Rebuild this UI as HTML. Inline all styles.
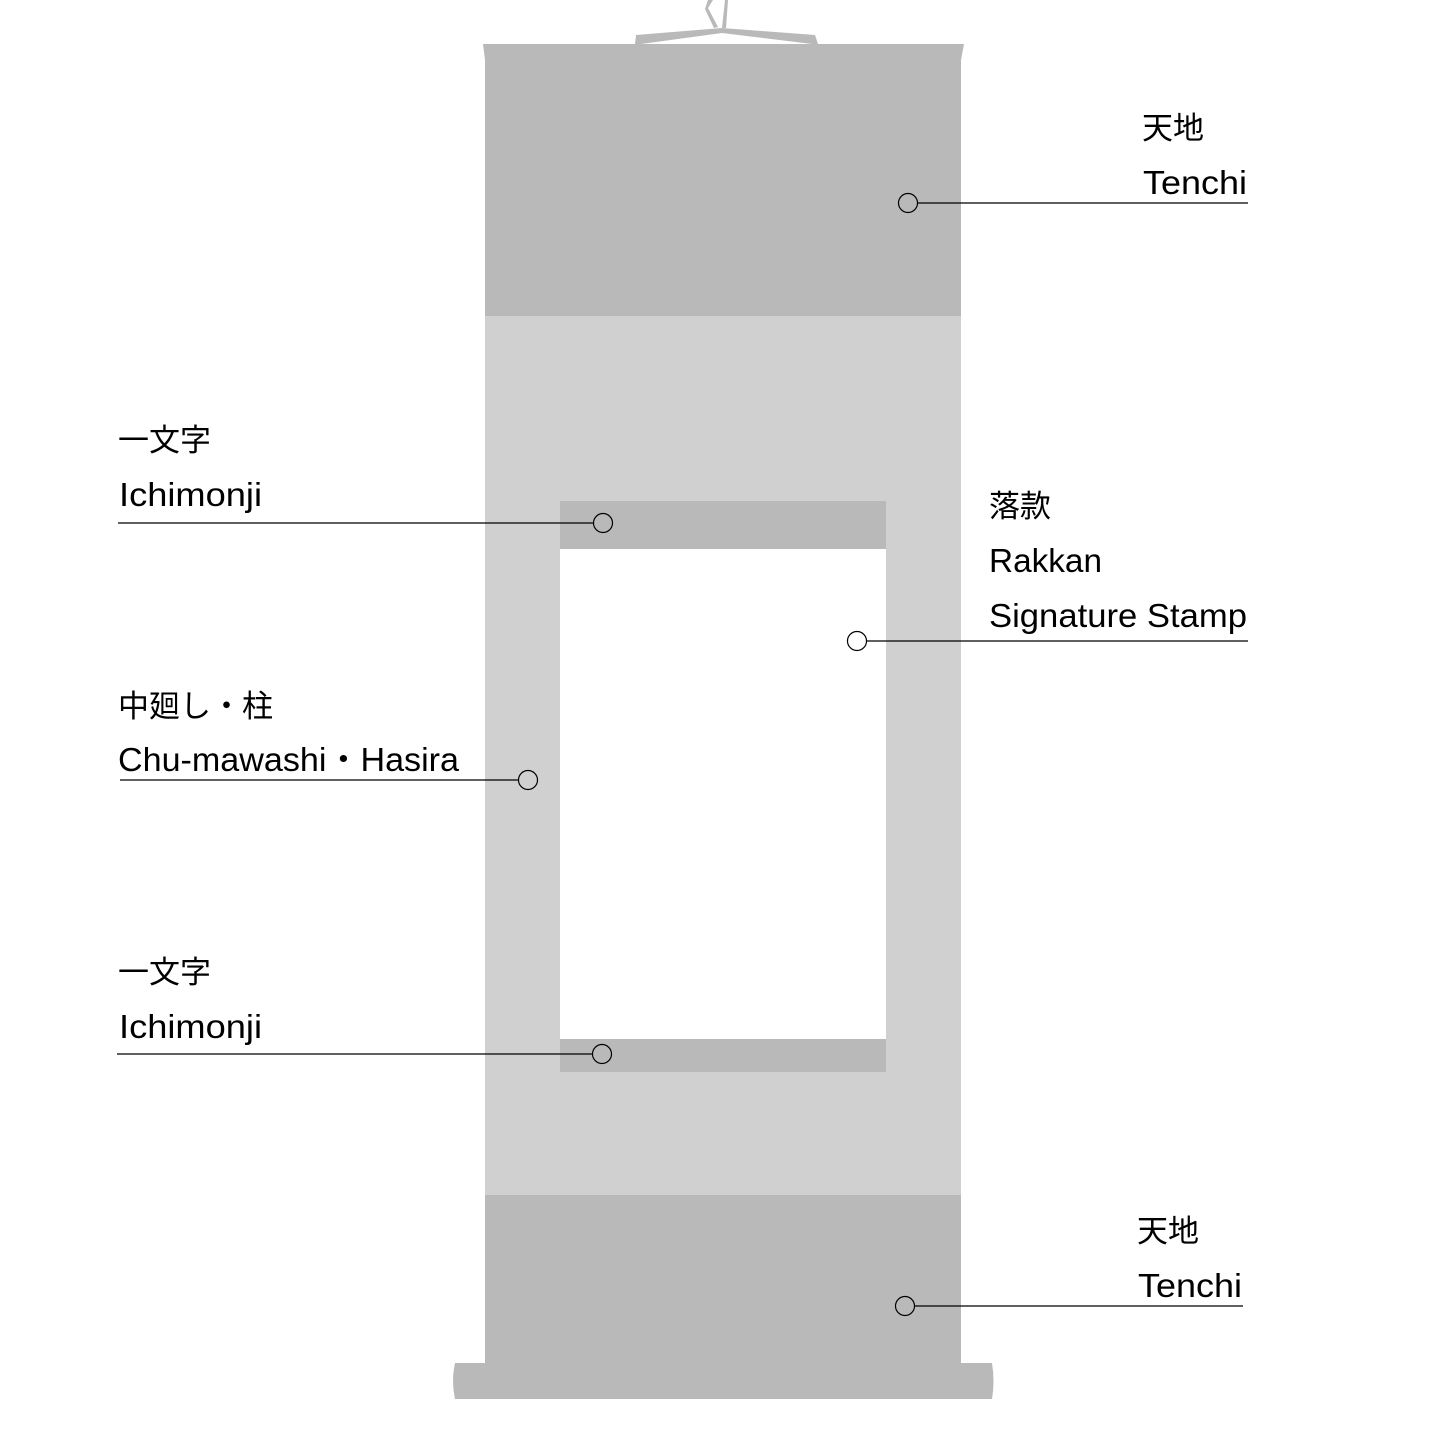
<!DOCTYPE html>
<html><head><meta charset="utf-8"><style>html,body{margin:0;padding:0;background:#fff}</style></head>
<body>
<svg width="1445" height="1445" viewBox="0 0 1445 1445" xmlns="http://www.w3.org/2000/svg">
<g fill="#b9b9b9">
<path d="M483 44 L964 44 L961 60 L961 316 L485 316 L485 60 Z"/>
<rect x="485" y="316" width="476" height="880" fill="#d0d0d0"/>
<rect x="485" y="1195" width="476" height="170"/>
<path d="M455 1363 L992 1363 Q995 1381 992 1399 L455 1399 Q451 1381 455 1363 Z"/>
<path d="M636 35 L722 28 L815 35 L818 44 L812 44 L722 33 L641 44 L635 44 Z"/>
<path d="M708 0 L713 0 L708 8 L718 27 L714 28 L705 9 Z"/>
<path d="M725 0 L728 0 L726 28 L722 28 Z"/>
</g>
<rect x="560" y="501" width="326" height="571" fill="#fff"/>
<rect x="560" y="501" width="326" height="48" fill="#b9b9b9"/>
<rect x="560" y="1039" width="326" height="33" fill="#b9b9b9"/>
<g stroke="#000" stroke-width="1.2" fill="none">
<line x1="918" y1="203" x2="1248" y2="203"/><circle cx="908" cy="203" r="9.5"/>
<line x1="118" y1="523" x2="593" y2="523"/><circle cx="603" cy="523" r="9.5"/>
<line x1="867" y1="641" x2="1248" y2="641"/><circle cx="857" cy="641" r="9.5"/>
<line x1="120" y1="780" x2="518" y2="780"/><circle cx="528" cy="780" r="9.5"/>
<line x1="117" y1="1054" x2="592" y2="1054"/><circle cx="602" cy="1054" r="9.5"/>
<line x1="915" y1="1306" x2="1243" y2="1306"/><circle cx="905" cy="1306" r="9.5"/>
</g>
<g font-family="'Liberation Sans','Noto Sans CJK JP',sans-serif" fill="#000">
<g font-size="31">
<text x="1142" y="139">天地</text>
<text x="118" y="451">一文字</text>
<text x="989" y="517">落款</text>
<text x="118" y="717">中廻し・柱</text>
<text x="118" y="983">一文字</text>
<text x="1137" y="1242">天地</text>
</g>
<g font-size="33">
<text x="1143" y="194" textLength="104" lengthAdjust="spacingAndGlyphs">Tenchi</text>
<text x="119" y="506" textLength="143" lengthAdjust="spacingAndGlyphs">Ichimonji</text>
<text x="989" y="572" textLength="113" lengthAdjust="spacingAndGlyphs">Rakkan</text>
<text x="989" y="627" textLength="258" lengthAdjust="spacingAndGlyphs">Signature Stamp</text>
<text x="118" y="771" textLength="341" lengthAdjust="spacingAndGlyphs">Chu-mawashi・Hasira</text>
<text x="119" y="1038" textLength="143" lengthAdjust="spacingAndGlyphs">Ichimonji</text>
<text x="1138" y="1297" textLength="104" lengthAdjust="spacingAndGlyphs">Tenchi</text>
</g>
</g>
</svg>
</body></html>
